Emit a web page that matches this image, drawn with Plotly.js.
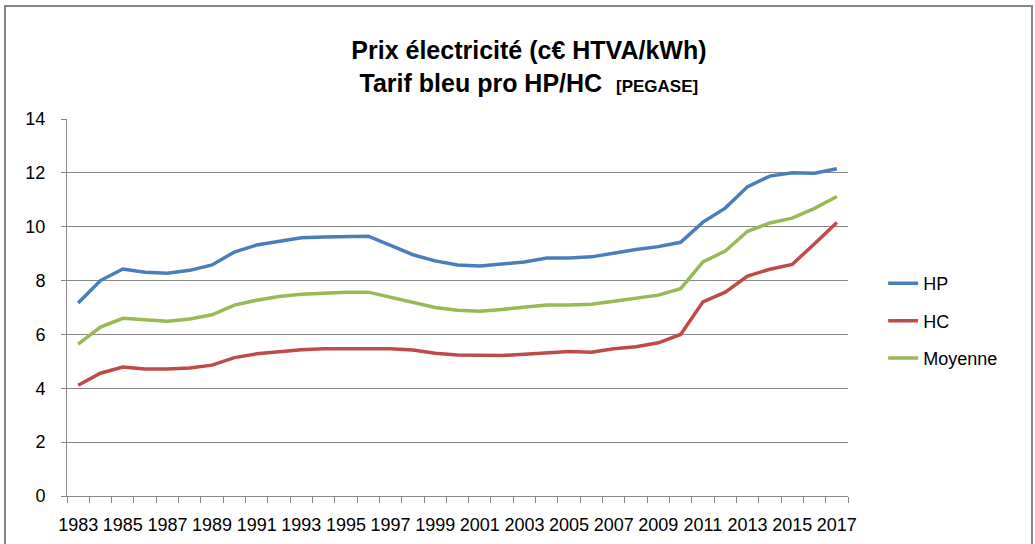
<!DOCTYPE html>
<html>
<head>
<meta charset="utf-8">
<script src="https://cdn.plot.ly/plotly-3.0.1.min.js"></script>
<style>
  html, body { margin: 0; padding: 0; background: #fff; }
  #wrap { position: relative; width: 1035px; height: 544px; overflow: hidden; }
  #frame { position: absolute; left: 4px; top: 5px; width: 1029px; height: 600px; border: 2px solid #868686; box-sizing: border-box; pointer-events: none; }
  #chart { position: absolute; left: 0; top: 0; width: 1035px; height: 544px; }
</style>
</head>
<body>
<div id="wrap">
  <div id="chart"></div>
  <div id="frame"></div>
</div>
<script>
const years = [1983,1984,1985,1986,1987,1988,1989,1990,1991,1992,1993,1994,1995,1996,1997,1998,1999,2000,
               2001,2002,2003,2004,2005,2006,2007,2008,2009,2010,2011,2012,2013,2014,2015,2016,2017];
const tickYears = [1983,1985,1987,1989,1991,1993,1995,1997,1999,2001,2003,2005,2007,2009,2011,2013,2015,2017];

const hp = [7.17,8.00,8.43,8.31,8.27,8.38,8.58,9.06,9.32,9.47,9.59,9.62,9.65,9.65,9.31,8.96,8.73,8.58,
            8.54,8.60,8.69,8.84,8.84,8.88,9.02,9.15,9.26,9.42,10.17,10.69,11.49,11.88,12.00,11.99,12.15];
const hc = [4.11,4.56,4.79,4.72,4.72,4.75,4.86,5.14,5.28,5.36,5.43,5.47,5.47,5.47,5.47,5.42,5.30,5.24,
            5.22,5.22,5.26,5.31,5.37,5.34,5.47,5.54,5.69,6.00,7.21,7.57,8.17,8.42,8.60,9.37,10.16];
const moy = [5.64,6.27,6.60,6.53,6.49,6.57,6.73,7.09,7.27,7.41,7.49,7.53,7.57,7.57,7.38,7.16,7.00,6.90,
             6.86,6.93,7.01,7.09,7.09,7.12,7.23,7.35,7.46,7.70,8.69,9.10,9.83,10.14,10.32,10.68,11.12];

const seriesNames = ['HP', 'HC', 'Moyenne'];
const seriesColors = ['#4a7ebb', '#be4b48', '#98b954'];
const seriesValues = [hp, hc, moy];

const traces = seriesValues.map((vals, i) => ({
  type: 'scatter',
  mode: 'lines',
  x: years,
  y: vals,
  name: seriesNames[i],
  legendgroup: 'g' + i,
  line: { color: seriesColors[i], width: 3.5 }
}));

const FONT = 'Liberation Sans, Arial, sans-serif';
const layout = {
  width: 1035,
  height: 544,
  margin: { l: 67, r: 187, t: 119, b: 48, pad: 0 },
  paper_bgcolor: '#ffffff',
  plot_bgcolor: '#ffffff',
  font: { family: FONT, color: '#000000', size: 18 },
  title: {
    text: '<b>Prix électricité (c€ HTVA/kWh)</b><br><b>Tarif bleu pro HP/HC  <span style="font-size:17px">[PEGASE]</span></b>',
    font: { family: FONT, size: 25, color: '#000000' },
    x: 0.511, xanchor: 'center', xref: 'container',
    y: 0.891, yanchor: 'middle', yref: 'container'
  },
  xaxis: {
    type: 'linear',
    range: [1982.5, 2017.5],
    tickmode: 'array',
    tickvals: tickYears,
    ticktext: tickYears.map(String),
    tickangle: 0,
    ticks: '',
    ticklabelstandoff: 12,
    showgrid: false,
    zeroline: false,
    showline: true,
    linecolor: '#868686',
    linewidth: 1,
    tickfont: { family: FONT, size: 18, color: '#000' },
    minor: { tick0: 1982.5, dtick: 1, ticks: 'outside', ticklen: 6, tickcolor: '#868686', tickwidth: 1, showgrid: false }
  },
  yaxis: {
    range: [0, 14],
    dtick: 2,
    tick0: 0,
    ticks: 'outside',
    ticklen: 5,
    tickcolor: '#868686',
    ticklabelstandoff: 12,
    showgrid: true,
    gridcolor: '#868686',
    gridwidth: 1,
    zeroline: false,
    showline: true,
    linecolor: '#868686',
    linewidth: 1,
    tickfont: { family: FONT, size: 18, color: '#000' }
  },
  showlegend: true,
  legend: {
    x: 1.045, xanchor: 'left',
    y: 0.464, yanchor: 'middle',
    traceorder: 'grouped',
    tracegroupgap: 11,
    font: { family: FONT, size: 18, color: '#000' },
    bgcolor: 'rgba(0,0,0,0)'
  }
};

Plotly.newPlot('chart', traces, layout, { displayModeBar: false, staticPlot: true });
</script>
</body>
</html>
